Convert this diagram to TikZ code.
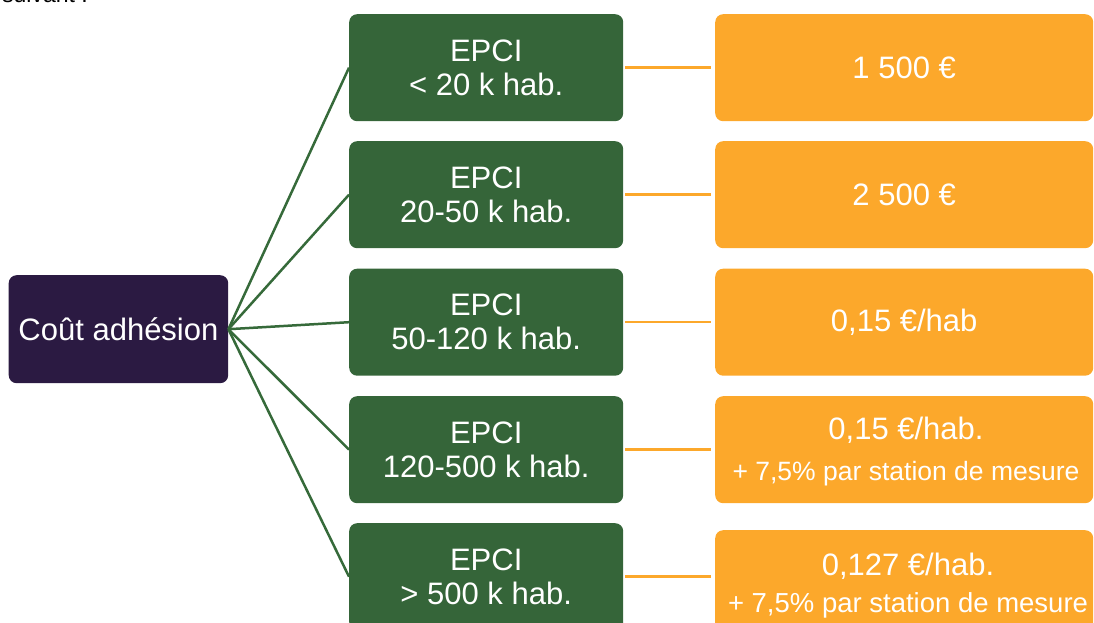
\documentclass[tikz,border=0pt]{standalone}
\usepackage{fontspec}
\setmainfont{Liberation Sans}
\definecolor{epcigreen}{HTML}{356539}
\definecolor{linegreen}{HTML}{366A3A}
\definecolor{costorange}{HTML}{FCA82B}
\definecolor{rootpurple}{HTML}{2B1A42}
\tikzset{
  greenbox/.style={rectangle, rounded corners=8pt, fill=epcigreen, text=white, anchor=north west,
    minimum width=274pt, minimum height=107pt, inner sep=0pt, align=center,
    font=\fontsize{31}{34}\selectfont},
  orangebox/.style={rectangle, rounded corners=8pt, fill=costorange, text=white, anchor=north west,
    minimum width=378pt, minimum height=107pt, inner sep=0pt, align=center,
    font=\fontsize{31}{34}\selectfont},
  rootbox/.style={rectangle, rounded corners=8pt, fill=rootpurple, text=white, anchor=north west,
    minimum width=219.5pt, minimum height=108pt, inner sep=0pt,
    font=\fontsize{31}{34}\selectfont},
  bigtxt/.style={anchor=base, inner sep=0pt, text=white, font=\fontsize{31}{34}\selectfont},
  smalltxt/.style={anchor=base, inner sep=0pt, text=white, font=\fontsize{26.5}{30}\selectfont},
  glink/.style={draw=linegreen, line width=2.5pt},
  olink/.style={draw=costorange, line width=2.5pt, shorten <=2pt, shorten >=4pt}
}
\begin{document}
\begin{tikzpicture}[x=1pt,y=-1pt]
\useasboundingbox (0,0) rectangle (1094,623);
% cut-off heading
\node[anchor=base west, inner sep=0pt, font=\fontsize{23}{27}\selectfont] (head) at (2,3) {suivant :};
% root
\node[rootbox] (root) at (8.5,275) {Coût adhésion};
% green boxes
\node[greenbox] (g1) at (349,14) {EPCI\\< 20 k hab.};
\node[greenbox] (g2) at (349,141) {EPCI\\20-50 k hab.};
\node[greenbox] (g3) at (349,268.5) {EPCI\\50-120 k hab.};
\node[greenbox] (g4) at (349,396) {EPCI\\120-500 k hab.};
\node[greenbox] (g5) at (349,523) {EPCI\\> 500 k hab.};
% orange boxes
\node[orangebox] (o1) at (715,14) {1 500 €};
\node[orangebox] (o2) at (715,141) {2 500 €};
\node[orangebox] (o3) at (715,268.5) {0,15 €/hab};
\node[orangebox] (o4) at (715,396) {};
\node[orangebox, minimum height=110pt] (o5) at (715,530) {};
\node[bigtxt] (o4a) at (906,439.3) {0,15 €/hab.};
\node[smalltxt] (o4b) at (906,480) {+ 7,5\% par station de mesure};
\node[bigtxt] (o5a) at (908,575) {0,127 €/hab.};
\node[smalltxt, font=\fontsize{27.5}{31}\selectfont] (o5b) at (908,612.5) {+ 7,5\% par station de mesure};
% green connectors
\foreach \g in {g1,g2,g3,g4,g5}{
  \draw[glink] (root.east) -- (\g.west);
}
% orange connectors
\foreach \i in {1,2,3,4,5}{
  \draw[olink] (g\i.east) -- (g\i.east -| o\i.west);
}
\end{tikzpicture}
\end{document}
